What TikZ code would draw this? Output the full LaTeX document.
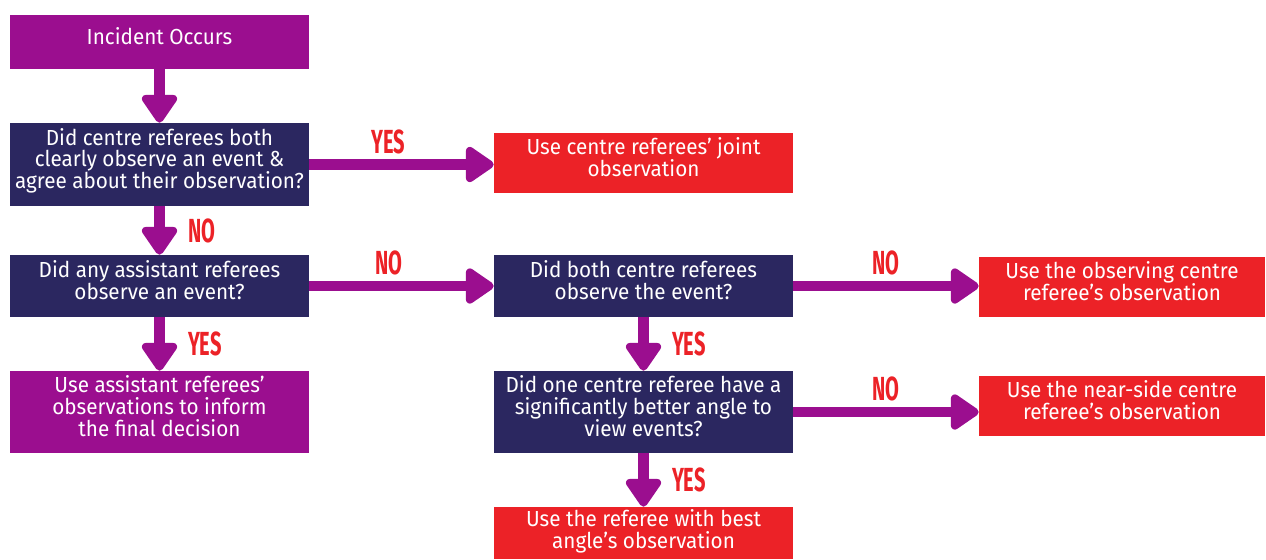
\documentclass[tikz,border=0pt]{standalone}
\usepackage{fontspec}
\setmainfont[FakeStretch=0.95]{Fira Sans}
\newfontfamily\answerfont[FakeStretch=0.6]{Fira Sans}
\usetikzlibrary{positioning,arrows.meta}

\definecolor{refpurple}{HTML}{9B0E8F}
\definecolor{refnavy}{HTML}{2B2760}
\definecolor{refred}{HTML}{EC2227}

\tikzset{
    box/.style={minimum width=5.98cm, inner sep=1pt, align=center, text=white,
        text depth=7pt, font=\fontsize{12.4}{12.4}\selectfont},
    startbox/.style={box, fill=refpurple},
    askbox/.style={box, fill=refnavy},
    usebox/.style={box, fill=refred},
    flow/.style={line width=0.21cm, refpurple,
        -{Triangle[width=0.8cm, length=0.62cm, round]}},
    answer/.style={text=refred, inner sep=3pt,
        font=\answerfont\bfseries\fontsize{19}{19}\selectfont},
}

\begin{document}
\begin{tikzpicture}[x=0.02cm, y=-0.02cm]
\useasboundingbox (0,0) rectangle (1266,559);

% left column
\node[startbox, minimum height=1.08cm] (start) at (159.5,42) {Incident Occurs};
\node[askbox, minimum height=1.66cm] (q1) at (159.5,164.5)
    {Did centre referees both\\clearly observe an event \&\\agree about their observation?};
\node[askbox, minimum height=1.24cm] (q2) at (159.5,286)
    {Did any assistant referees\\observe an event?};
\node[startbox, minimum height=1.64cm] (ar) at (159.5,412)
    {Use assistant referees’\\observations to inform\\the final decision};

% middle column
\node[usebox, minimum height=1.2cm] (yes1) at (643.5,163)
    {Use centre referees’ joint\\observation};
\node[askbox, minimum height=1.24cm] (q3) at (643.5,286)
    {Did both centre referees\\observe the event?};
\node[askbox, minimum height=1.64cm] (q4) at (643.5,412)
    {Did one centre referee have a\\significantly better angle to\\view events?};
\node[usebox, minimum height=1.04cm, text depth=5pt] (r4) at (643.5,533)
    {Use the referee with best\\angle’s observation};

% right column
\node[usebox, minimum width=5.72cm, minimum height=1.2cm] (r2) at (1122,287)
    {Use the observing centre\\referee’s observation};
\node[usebox, minimum width=5.72cm, minimum height=1.2cm] (r3) at (1122,406)
    {Use the near-side centre\\referee’s observation};

\draw[flow] (start) -- (q1);

\foreach \src/\dst/\txt in {q1/q2/NO, q2/ar/YES, q3/q4/YES, q4/r4/YES}
    \draw[flow] (\src) -- (\src |- \dst.north) node[midway, right=0.36cm, answer] {\txt};

\foreach \src/\dst/\txt/\p in {q1/yes1/YES/0.43, q2/q3/NO/0.43, q3/r2/NO/0.5, q4/r3/NO/0.5}
    \draw[flow] (\src) -- (\src -| \dst.west) node[pos=\p, above, answer] {\txt};

\end{tikzpicture}
\end{document}
